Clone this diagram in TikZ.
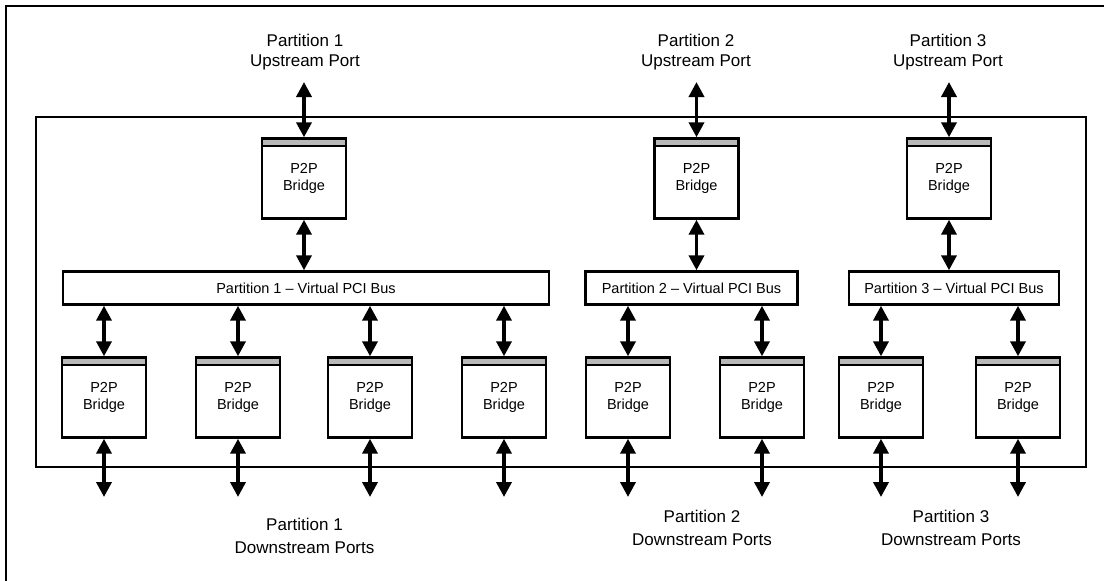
\documentclass[tikz,border=0pt]{standalone}
\usepackage{fontspec}
\setmainfont{Liberation Sans}
\usetikzlibrary{arrows.meta}

\tikzset{
  bridgebox/.style={draw, line width=2.4pt, minimum width=84pt, minimum height=80pt,
    inner sep=0pt, align=center, font=\fontsize{14.5}{17}\selectfont,
    path picture={
      \fill[gray!55] (path picture bounding box.north west) rectangle ([yshift=-7.5pt]path picture bounding box.north east);
      \draw[line width=1.6pt] ([yshift=-7.5pt]path picture bounding box.north west) -- ([yshift=-7.5pt]path picture bounding box.north east);
    }},
  busbox/.style={draw, line width=2.4pt, minimum height=33pt, inner sep=0pt,
    font=\fontsize{14.5}{17}\selectfont},
  uplabel/.style={align=center, font=\fontsize{17}{20}\selectfont},
  downlabel/.style={align=center, font=\fontsize{17}{23}\selectfont},
  biarrow/.style={{Triangle[width=15pt,length=15pt]}-{Triangle[width=15pt,length=15pt]}, line width=3.6pt}
}

\begin{document}
\begin{tikzpicture}[x=1pt,y=-1pt]
\useasboundingbox (0,0) rectangle (1104,581);

% frame
\draw[line width=2.4pt] (6,581) -- (6,6) -- (1104,6);
\draw[line width=2.8pt] (36,117) rectangle (1086,467);

% upstream side
\node[uplabel] (ul1) at (305,52) {Partition 1\\Upstream Port};
\node[uplabel] (ul2) at (696,52) {Partition 2\\Upstream Port};
\node[uplabel] (ul3) at (948,52) {Partition 3\\Upstream Port};

\node[bridgebox] (ub1) at (304,178.5) {P2P\\Bridge};
\node[bridgebox] (ub2) at (696.5,178.5) {P2P\\Bridge};
\node[bridgebox] (ub3) at (949,178.5) {P2P\\Bridge};

\coordinate (ut1) at (304,82);
\coordinate (ut2) at (696.5,82);
\coordinate (ut3) at (949,82);

% virtual buses
\node[busbox, minimum width=486pt] (bus1) at (306,288) {Partition 1 -- Virtual PCI Bus};
\node[busbox, minimum width=212pt] (bus2) at (691.5,288) {Partition 2 -- Virtual PCI Bus};
\node[busbox, minimum width=210pt] (bus3) at (954,288) {Partition 3 -- Virtual PCI Bus};

% downstream bridges
\node[bridgebox] (db1) at (104,397.5) {P2P\\Bridge};
\node[bridgebox] (db2) at (238,397.5) {P2P\\Bridge};
\node[bridgebox] (db3) at (370,397.5) {P2P\\Bridge};
\node[bridgebox] (db4) at (504,397.5) {P2P\\Bridge};
\node[bridgebox] (db5) at (628,397.5) {P2P\\Bridge};
\node[bridgebox] (db6) at (762,397.5) {P2P\\Bridge};
\node[bridgebox] (db7) at (881,397.5) {P2P\\Bridge};
\node[bridgebox] (db8) at (1018,397.5) {P2P\\Bridge};

\coordinate (dt1) at (104,497);
\coordinate (dt2) at (238,497);
\coordinate (dt3) at (370,497);
\coordinate (dt4) at (504,497);
\coordinate (dt5) at (628,497);
\coordinate (dt6) at (762,497);
\coordinate (dt7) at (881,497);
\coordinate (dt8) at (1018,497);

\node[downlabel] (dl1) at (304.5,536) {Partition 1\\Downstream Ports};
\node[downlabel] (dl2) at (702,528) {Partition 2\\Downstream Ports};
\node[downlabel] (dl3) at (951,528) {Partition 3\\Downstream Ports};

% links
\draw[biarrow] (ut1) -- (ub1.north);
\draw[biarrow] (ut2) -- (ub2.north);
\draw[biarrow] (ut3) -- (ub3.north);

\draw[biarrow] (ub1.south) -- (ub1.south |- bus1.north);
\draw[biarrow] (ub2.south) -- (ub2.south |- bus2.north);
\draw[biarrow] (ub3.south) -- (ub3.south |- bus3.north);

\draw[biarrow] (db1.north |- bus1.south) -- (db1.north);
\draw[biarrow] (db2.north |- bus1.south) -- (db2.north);
\draw[biarrow] (db3.north |- bus1.south) -- (db3.north);
\draw[biarrow] (db4.north |- bus1.south) -- (db4.north);
\draw[biarrow] (db5.north |- bus2.south) -- (db5.north);
\draw[biarrow] (db6.north |- bus2.south) -- (db6.north);
\draw[biarrow] (db7.north |- bus3.south) -- (db7.north);
\draw[biarrow] (db8.north |- bus3.south) -- (db8.north);

\draw[biarrow] (db1.south) -- (dt1);
\draw[biarrow] (db2.south) -- (dt2);
\draw[biarrow] (db3.south) -- (dt3);
\draw[biarrow] (db4.south) -- (dt4);
\draw[biarrow] (db5.south) -- (dt5);
\draw[biarrow] (db6.south) -- (dt6);
\draw[biarrow] (db7.south) -- (dt7);
\draw[biarrow] (db8.south) -- (dt8);
\end{tikzpicture}
\end{document}
